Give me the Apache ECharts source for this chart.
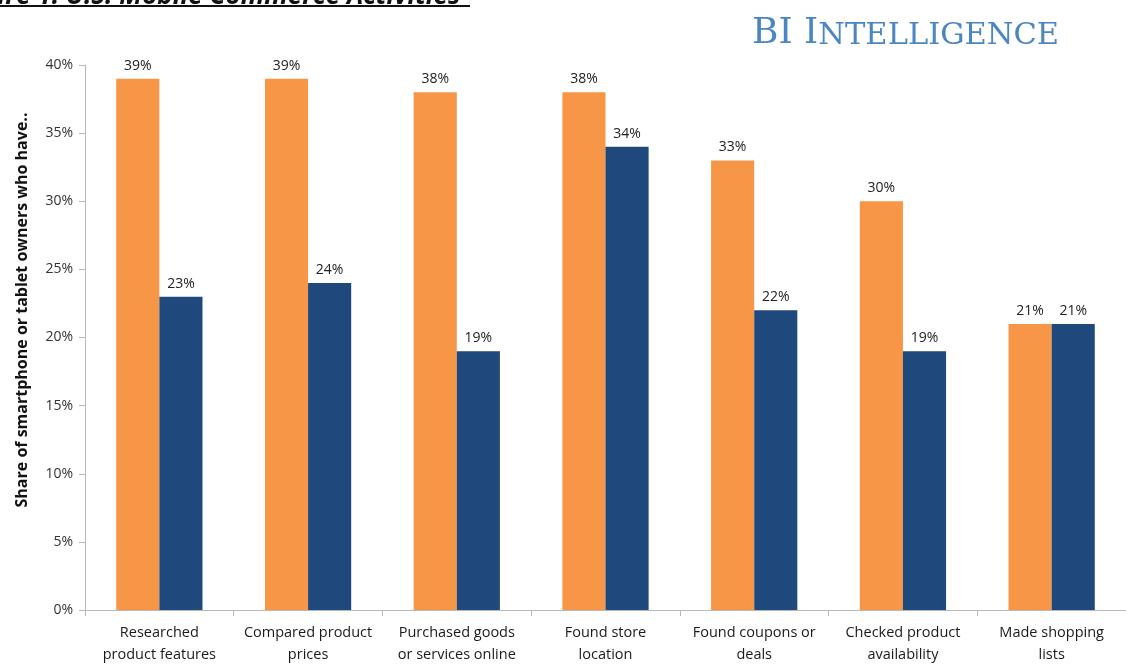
<!DOCTYPE html>
<html>
<head>
<meta charset="utf-8">
<script src="https://cdn.jsdelivr.net/npm/echarts@6/dist/echarts.min.js"></script>
<style>
html,body{margin:0;padding:0;background:#fff;}
#chart{width:1126px;height:666px;}
</style>
</head>
<body>
<div id="chart"></div>
<script>
const categories = [
  "Researched\nproduct features",
  "Compared product\nprices",
  "Purchased goods\nor services online",
  "Found store\nlocation",
  "Found coupons or\ndeals",
  "Checked product\navailability",
  "Made shopping\nlists"
];
const seriesA = [39, 39, 38, 38, 33, 30, 21];
const seriesB = [23, 24, 19, 34, 22, 19, 21];
const yTicks = [0, 5, 10, 15, 20, 25, 30, 35, 40];
const yAxisTitle = "Share of smartphone or tablet owners who have..";
const figTitle = "Figure 1: U.S. Mobile Commerce Activities";

const chart = echarts.init(document.getElementById('chart'), null, {renderer: 'canvas'});
const labelStyle = {
  show: true, position: 'top', distance: 6,
  formatter: p => p.value + '%',
  color: '#222', fontSize: 14, fontFamily: 'Open Sans'
};
chart.setOption({
  animation: false,
  backgroundColor: '#fff',
  grid: {left: 85, top: 65, width: 1046, height: 547, containLabel: false},
  xAxis: {
    type: 'category',
    data: categories,
    axisLine: {lineStyle: {color: '#b8b8b8', width: 1}},
    axisTick: {show: true, alignWithLabel: false, length: 6, lineStyle: {color: '#b8b8b8'}},
    axisLabel: {color: '#1a1a1a', fontSize: 14.5, fontFamily: 'Open Sans', lineHeight: 22, margin: 12, interval: 0}
  },
  yAxis: {
    type: 'value',
    min: yTicks[0], max: yTicks[yTicks.length - 1], interval: 5,
    axisLine: {show: true, lineStyle: {color: '#b8b8b8'}},
    axisTick: {show: true, length: 6, lineStyle: {color: '#b8b8b8'}},
    splitLine: {show: false},
    axisLabel: {formatter: v => v + '%', color: '#333', fontSize: 14, fontFamily: 'Open Sans', margin: 12}
  },
  series: [
    {type: 'bar', data: seriesA, barGap: '0%', barCategoryGap: '42%',
     itemStyle: {color: '#F79646'}, label: labelStyle},
    {type: 'bar', data: seriesB,
     itemStyle: {color: '#1F497D'}, label: labelStyle}
  ],
  graphic: [
    {type: 'text', x: 22, y: 310, rotation: Math.PI / 2,
     style: {text: yAxisTitle, fontFamily: 'Open Sans', fontSize: 16, fontWeight: 'bold',
             fill: '#111', align: 'center', verticalAlign: 'middle'}},
    {type: 'text', left: 752, top: 16,
     style: {
       text: '{a|BI I}{b|NTELLIGENCE}',
       rich: {
         a: {fontFamily: 'DejaVu Serif', fontSize: 36, fill: '#4A86C3', verticalAlign: 'bottom'},
         b: {fontFamily: 'DejaVu Serif', fontSize: 30.5, fill: '#4A86C3', verticalAlign: 'bottom'}
       }
     }},
    {type: 'text', x: -46, y: 10,
     style: {text: figTitle, fontFamily: 'Open Sans', fontStyle: 'italic', fontWeight: 'bold',
             fontSize: 26, fill: '#111', verticalAlign: 'bottom', align: 'left'}},
    {type: 'line', shape: {x1: 0, y1: 6, x2: 470, y2: 6}, style: {stroke: '#111', lineWidth: 2}}
  ]
});
</script>
</body>
</html>
